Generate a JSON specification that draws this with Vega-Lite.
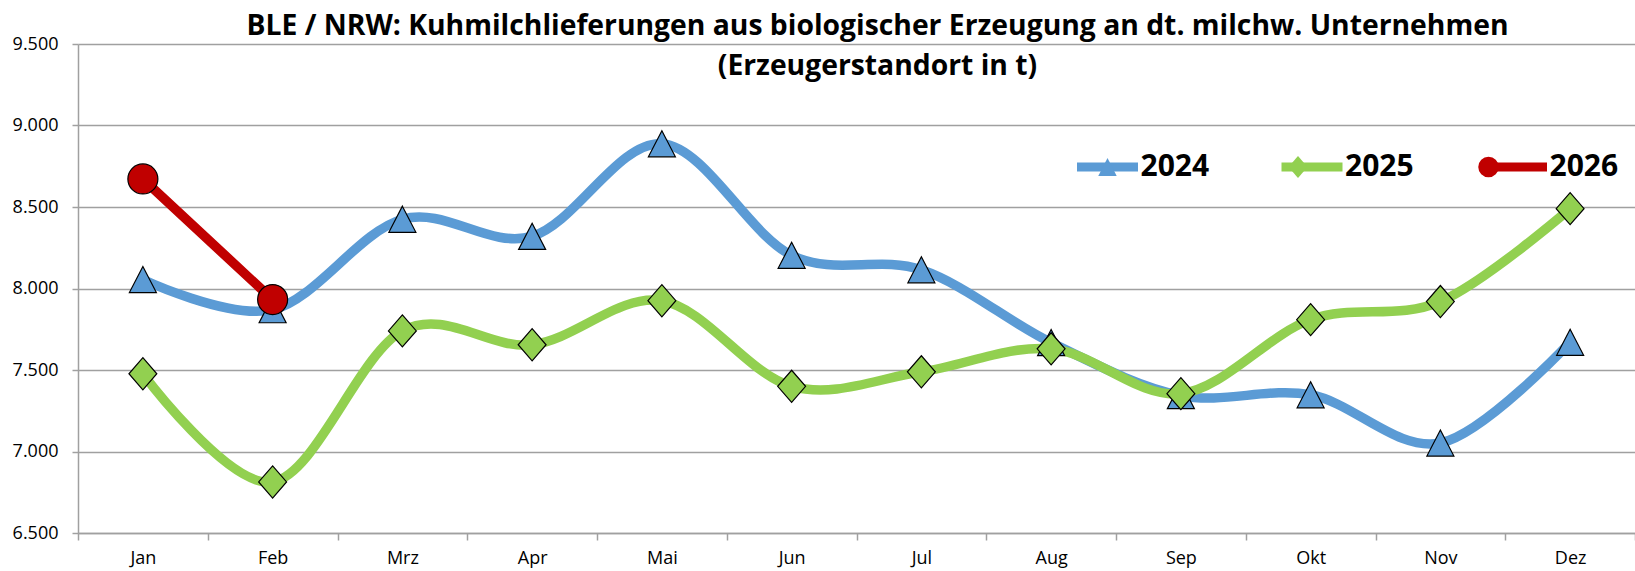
{
  "$schema": "https://vega.github.io/schema/vega-lite/v6.json",
  "width": 1557,
  "height": 489,
  "autosize": "none",
  "padding": {"left": 78, "top": 44, "right": 0, "bottom": 38},
  "background": "white",
  "title": {
    "text": ["BLE / NRW: Kuhmilchlieferungen aus biologischer Erzeugung an dt. milchw. Unternehmen", "(Erzeugerstandort in t)"],
    "font": "Open Sans", "fontSize": 28.3, "fontWeight": "bold", "color": "black",
    "anchor": "middle", "frame": "group", "offset": -46, "lineHeight": 40, "dx": 21
  },
  "data": {
    "values": [
      {"Monat": "Jan", "Jahr": "2024", "Wert": 8055},
      {"Monat": "Feb", "Jahr": "2024", "Wert": 7870},
      {"Monat": "Mrz", "Jahr": "2024", "Wert": 8425},
      {"Monat": "Apr", "Jahr": "2024", "Wert": 8320},
      {"Monat": "Mai", "Jahr": "2024", "Wert": 8888},
      {"Monat": "Jun", "Jahr": "2024", "Wert": 8204},
      {"Monat": "Jul", "Jahr": "2024", "Wert": 8115},
      {"Monat": "Aug", "Jahr": "2024", "Wert": 7668},
      {"Monat": "Sep", "Jahr": "2024", "Wert": 7343},
      {"Monat": "Okt", "Jahr": "2024", "Wert": 7348},
      {"Monat": "Nov", "Jahr": "2024", "Wert": 7052},
      {"Monat": "Dez", "Jahr": "2024", "Wert": 7670},
      {"Monat": "Jan", "Jahr": "2025", "Wert": 7477},
      {"Monat": "Feb", "Jahr": "2025", "Wert": 6813},
      {"Monat": "Mrz", "Jahr": "2025", "Wert": 7740},
      {"Monat": "Apr", "Jahr": "2025", "Wert": 7655},
      {"Monat": "Mai", "Jahr": "2025", "Wert": 7925},
      {"Monat": "Jun", "Jahr": "2025", "Wert": 7400},
      {"Monat": "Jul", "Jahr": "2025", "Wert": 7489},
      {"Monat": "Aug", "Jahr": "2025", "Wert": 7630},
      {"Monat": "Sep", "Jahr": "2025", "Wert": 7355},
      {"Monat": "Okt", "Jahr": "2025", "Wert": 7809},
      {"Monat": "Nov", "Jahr": "2025", "Wert": 7920},
      {"Monat": "Dez", "Jahr": "2025", "Wert": 8490},
      {"Monat": "Jan", "Jahr": "2026", "Wert": 8672},
      {"Monat": "Feb", "Jahr": "2026", "Wert": 7932}
    ]
  },
  "encoding": {
    "x": {
      "field": "Monat", "type": "nominal",
      "sort": ["Jan", "Feb", "Mrz", "Apr", "Mai", "Jun", "Jul", "Aug", "Sep", "Okt", "Nov", "Dez"],
      "scale": {"type": "band", "paddingInner": 0, "paddingOuter": 0},
      "axis": {
        "title": null, "labelAngle": 0, "labelFont": "Open Sans", "labelFontSize": 18, "labelColor": "black",
        "labelPadding": 9, "tickBand": "extent", "ticks": true, "tickSize": 7, "tickColor": "#a0a0a0",
        "tickWidth": 1.5, "domainColor": "#a0a0a0", "domainWidth": 1.5, "grid": false
      }
    },
    "y": {
      "field": "Wert", "type": "quantitative",
      "scale": {"domain": [6500, 9500], "nice": false, "zero": false},
      "axis": {
        "title": null, "values": [6500, 7000, 7500, 8000, 8500, 9000, 9500],
        "labelExpr": "replace(format(datum.value, ',.0f'), ',', '.')",
        "labelFont": "Open Sans", "labelFontSize": 18, "labelColor": "black", "labelPadding": 14,
        "tickSize": 6, "tickColor": "#a0a0a0", "tickWidth": 1.5, "domainColor": "#a0a0a0", "domainWidth": 1.5,
        "grid": true, "gridColor": "#a0a0a0", "gridWidth": 1.5
      }
    }
  },
  "layer": [
    {
      "mark": {"type": "line", "interpolate": "cardinal", "strokeWidth": 9.5, "strokeCap": "round", "strokeJoin": "round"},
      "encoding": {
        "color": {
          "field": "Jahr", "type": "nominal",
          "scale": {"range": ["#5B9BD5", "#92D050", "#C00000"]},
          "legend": {
            "orient": "none", "legendX": 994.5, "legendY": 88, "direction": "horizontal", "title": null,
            "symbolType": "stroke", "symbolSize": 3721, "symbolStrokeWidth": 9, "padding": 0,
            "labelFont": "Open Sans", "labelFontSize": 30, "labelFontWeight": "bold", "labelColor": "black",
            "labelOffset": -2, "columnPadding": 53.5
          }
        }
      }
    },
    {
      "mark": {"type": "point", "filled": true, "stroke": "black", "strokeWidth": 1.2, "size": 900, "opacity": 1},
      "encoding": {
        "fill": {
          "field": "Jahr", "type": "nominal",
          "scale": {"domain": ["2024", "2025", "2026"], "range": ["#5B9BD5", "#92D050", "#C00000"]},
          "legend": {
            "orient": "none", "legendX": 1014.5, "legendY": 108, "direction": "horizontal", "title": null,
            "symbolSize": 420, "symbolStrokeWidth": 1.2, "symbolStrokeColor": "black", "symbolOpacity": 1, "padding": 0,
            "labelFont": "Open Sans", "labelFontSize": 30, "labelFontWeight": "bold", "labelOpacity": 0,
            "labelOffset": -2, "columnPadding": 93.5
          }
        },
        "shape": {
          "field": "Jahr", "type": "nominal",
          "scale": {"domain": ["2024", "2025", "2026"], "range": ["M0,-0.87L0.9,0.87L-0.9,0.87Z", "M0,-1.07L0.93,0L0,1.07L-0.93,0Z", "circle"]},
          "legend": {
            "orient": "none", "legendX": 1014.5, "legendY": 108, "direction": "horizontal", "title": null,
            "symbolSize": 420, "symbolStrokeWidth": 1.2, "symbolStrokeColor": "black", "symbolOpacity": 1, "padding": 0,
            "labelFont": "Open Sans", "labelFontSize": 30, "labelFontWeight": "bold", "labelOpacity": 0,
            "labelOffset": -2, "columnPadding": 93.5
          }
        }
      }
    }
  ],
  "config": {"view": {"stroke": null}}
}
